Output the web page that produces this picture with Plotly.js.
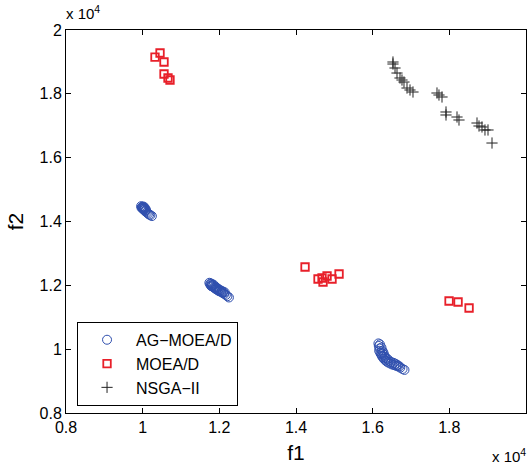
<!DOCTYPE html>
<html>
<head>
<meta charset="utf-8">
<script src="https://cdn.plot.ly/plotly-3.0.1.min.js"></script>
<style>html,body{margin:0;padding:0;background:#fff;}#plot{width:527px;height:467px;}</style>
</head>
<body>
<div id="plot"></div>
<script>
// AG-MOEA/D
const agX = [9960, 9970, 9990, 10000, 10010, 10020, 10040, 10060, 10080, 10110, 10140, 10170, 10200, 10240,
  9980, 10020, 10040, 10050, 10030, 10070, 10090, 10000,
  11740, 11760, 11780, 11800, 11830, 11860, 11890, 11920, 11950, 11980, 12010, 12050, 12090, 12130, 12170, 12210, 12250,
  11770, 11810, 11850, 11800, 11880, 11900, 11940, 11980, 12020, 12060, 12100, 12140, 11920,
  16150, 16160, 16180, 16170, 16200, 16220, 16240, 16260, 16290, 16330, 16370, 16410, 16460, 16510, 16560, 16610, 16660, 16720, 16780, 16830,
  16190, 16230, 16250, 16280, 16300, 16320, 16380, 16420, 16480, 16550, 16600, 16650, 16700, 16250, 16340];
const agY = [14480, 14430, 14460, 14400, 14440, 14380, 14360, 14330, 14310, 14280, 14250, 14220, 14200, 14170,
  14450, 14470, 14420, 14440, 14400, 14390, 14360, 14420,
  12080, 12030, 11990, 12050, 11960, 11930, 11900, 11880, 11850, 11830, 11810, 11790, 11760, 11730, 11700, 11660, 11620,
  12060, 12010, 12020, 11970, 11950, 11930, 11910, 11880, 11850, 11830, 11800, 11780, 11940,
  10180, 10100, 10020, 9950, 9880, 9840, 9790, 9750, 9700, 9650, 9610, 9580, 9550, 9520, 9500, 9480, 9460, 9420, 9380, 9350,
  10150, 10050, 9950, 9900, 9820, 9760, 9700, 9650, 9600, 9570, 9540, 9500, 9460, 9870, 9720];
// MOEA/D
const moeadX = [10453, 10322, 10557, 10557, 10661, 10713, 14236, 14679, 14810, 14705, 14940, 15123, 14575, 17993, 18228, 18515];
const moeadY = [19279, 19153, 18997, 18621, 18496, 18433, 12574, 12230, 12292, 12104, 12198, 12355, 12198, 11509, 11478, 11290];
// NSGA-II
const nsgaX = [16530, 16530, 16583, 16635, 16713, 16765, 16817, 16896, 16974, 17052, 17678, 17730, 17809, 17913, 17913, 18200, 18252, 18722, 18774, 18852, 18930, 19009, 19113];
const nsgaY = [18997, 18934, 18809, 18652, 18496, 18433, 18370, 18182, 18120, 18057, 18026, 17963, 17901, 17431, 17337, 17274, 17180, 17086, 16992, 16961, 16867, 16867, 16459];

const tickVals = [8000, 10000, 12000, 14000, 16000, 18000, 20000];
const tickText = ['0.8', '1', '1.2', '1.4', '1.6', '1.8', '2'];

const FONT = 'Liberation Sans, Arial, Helvetica, sans-serif';

const traces = [
  {x: agX, y: agY, mode: 'markers', type: 'scatter', name: 'AG\u2212MOEA/D',
   marker: {symbol: 'circle-open', size: 9, color: '#2f4fae', line: {width: 1, color: '#2f4fae'}}},
  {x: moeadX, y: moeadY, mode: 'markers', type: 'scatter', name: 'MOEA/D',
   marker: {symbol: 'square-open', size: 7.5, color: '#e8202a', line: {width: 1.8, color: '#e8202a'}}},
  {x: nsgaX, y: nsgaY, mode: 'markers', type: 'scatter', name: 'NSGA\u2212II',
   marker: {symbol: 'cross-thin-open', size: 8, color: '#222', line: {width: 1, color: '#222'}}}
];

const axisCommon = {
  tickvals: tickVals, ticktext: tickText, ticks: 'inside', ticklen: 5, tickwidth: 1, tickcolor: '#000',
  showline: true, linecolor: '#000', linewidth: 1, mirror: 'ticks', showgrid: false, zeroline: false,
  tickfont: {family: FONT, size: 16, color: '#000'}, autorange: false
};

const layout = {
  width: 527, height: 467,
  margin: {l: 66, r: 1, t: 30, b: 54},
  paper_bgcolor: '#fff', plot_bgcolor: '#fff',
  showlegend: true,
  legend: {x: 0.024, y: 0.238, xanchor: 'left', yanchor: 'top', bordercolor: '#000', borderwidth: 1,
    bgcolor: '#fff', font: {family: FONT, size: 16, color: '#000'}, itemwidth: 48, tracegroupgap: 0},
  xaxis: Object.assign({}, axisCommon, {range: [8000, 20000],
    title: {text: 'f1', font: {family: FONT, size: 21, color: '#000'}, standoff: 10}}),
  yaxis: Object.assign({}, axisCommon, {range: [8000, 20000],
    title: {text: 'f2', font: {family: FONT, size: 21, color: '#000'}, standoff: 10}}),
  annotations: [
    {xref: 'paper', yref: 'paper', x: 0.0, y: 1.0, xanchor: 'left', yanchor: 'bottom', yshift: 6, xshift: -2,
     text: 'x 10<sup>4</sup>', showarrow: false, font: {family: FONT, size: 15, color: '#000'}},
    {xref: 'paper', yref: 'paper', x: 1.0, y: 0, xanchor: 'right', yanchor: 'top', yshift: -31, xshift: 2,
     text: 'x 10<sup>4</sup>', showarrow: false, font: {family: FONT, size: 15, color: '#000'}}
  ]
};

Plotly.newPlot('plot', traces, layout, {displayModeBar: false, staticPlot: true});
</script>
</body>
</html>
